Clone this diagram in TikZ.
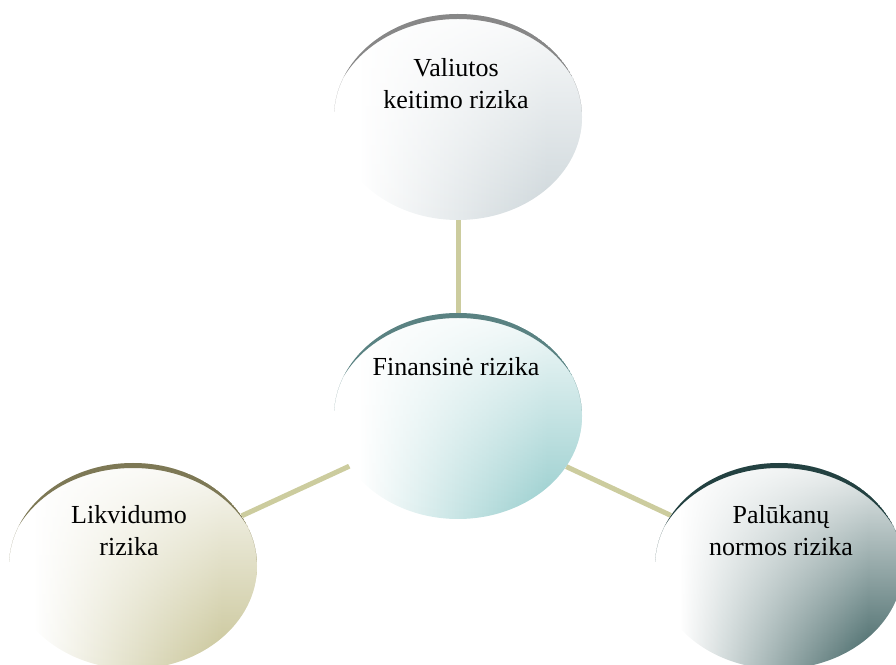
\documentclass[tikz,border=0pt]{standalone}
\usepackage{fontspec}
\setmainfont{Liberation Serif}
\usetikzlibrary{shapes.geometric,fadings}
\definecolor{linkC}{RGB}{204,204,158}
\definecolor{fillT}{RGB}{205,214,218}
\definecolor{rimT}{RGB}{135,135,135}
\definecolor{fillC}{RGB}{150,205,205}
\definecolor{rimC}{RGB}{90,130,130}
\definecolor{fillL}{RGB}{200,196,150}
\definecolor{rimL}{RGB}{125,120,85}
\definecolor{fillR}{RGB}{65,100,100}
\definecolor{rimR}{RGB}{35,65,65}
\pgfdeclarelayer{background}
\pgfsetlayers{background,main}
\newcommand\mkball[2]{\pgfdeclarehorizontalshading{ball#1}{100bp}{color(0bp)=(white); color(30bp)=(white); color(68bp)=(#2); color(100bp)=(#2)}}
\mkball{T}{fillT}
\mkball{C}{fillC}
\mkball{L}{fillL}
\mkball{R}{fillR}
\tikzfading[name=fadeTop, top color=transparent!10, middle color=transparent!70, bottom color=transparent!100]
\tikzset{
  ball/.style={ellipse, minimum width=248pt, minimum height=206pt, inner sep=0pt, draw=none, shade, shading=ball#1,
    path picture={
      \fill[white, path fading=fadeTop] (path picture bounding box.south west) rectangle (path picture bounding box.north east);
      \begin{scope}
      \clip ([yshift=5pt]path picture bounding box.west) rectangle (path picture bounding box.north east);
      \fill[rim#1, even odd rule]
      (path picture bounding box.center) ellipse [x radius=124pt, y radius=103pt]
      ([yshift=-5pt]path picture bounding box.center) ellipse [x radius=127pt, y radius=103pt];
      \end{scope}}},
  lbl/.style={align=center, font=\fontsize{26}{32}\selectfont, inner sep=0pt},
  link/.style={draw=linkC, line width=5pt}
}
\begin{document}
\begin{tikzpicture}[x=1pt,y=1pt]
\useasboundingbox (0,0) rectangle (896,664);
\clip (0,0) rectangle (896,664);
\node[ball=T] (valiut) at (458,547) {};
\node[ball=C] (fin) at (458,248) {};
\node[ball=L] (likv) at (133,98) {};
\node[ball=R] (pal) at (779,98) {};
\begin{pgfonlayer}{background}
\draw[link] (fin) -- (valiut);
\draw[link] (fin) -- (likv);
\draw[link] (fin) -- (pal);
\end{pgfonlayer}
\node[lbl] (valiutT) at (456,580) {Valiutos\\keitimo rizika};
\node[lbl] (finT) at (456,297) {Finansinė rizika};
\node[lbl] (likvT) at (129,133) {Likvidumo\\rizika};
\node[lbl] (palT) at (781,133) {Palūkanų\\normos rizika};
\end{tikzpicture}
\end{document}
